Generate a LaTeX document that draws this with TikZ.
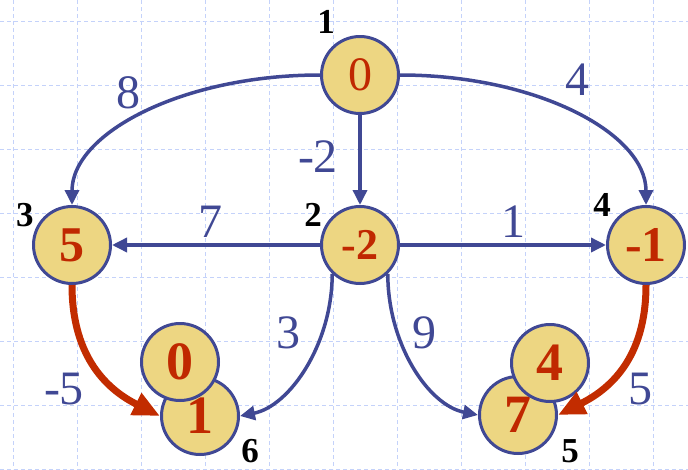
\documentclass[tikz,border=0pt]{standalone}
\usepackage{fontspec}
\setmainfont{Liberation Serif}
\usepackage{tikz}
\usetikzlibrary{arrows.meta}
\definecolor{edgeblue}{RGB}{64,72,148}
\definecolor{nodefill}{RGB}{237,214,130}
\definecolor{valred}{RGB}{192,40,0}
\definecolor{treered}{RGB}{194,44,0}
\definecolor{gridblue}{RGB}{196,210,250}
\tikzset{
    vertex/.style={circle, draw=edgeblue, fill=nodefill, line width=3pt, minimum size=77pt,
        inner sep=0pt, text=valred, font=\bfseries\fontsize{50}{50}\selectfont},
    idlabel/.style={font=\bfseries\fontsize{35}{35}\selectfont},
    weight/.style={text=edgeblue, font=\fontsize{48}{48}\selectfont},
    blueedge/.style={draw=edgeblue, line width=3.5pt, -{Triangle[length=15pt,width=14pt]}},
    rededge/.style={draw=treered, line width=7pt, -{Triangle[length=27pt,width=23pt]}},
    gridline/.style={draw=gridblue, line width=1pt, dash pattern=on 4pt off 3pt}
}
\begin{document}
\begin{tikzpicture}[x=1pt, y=1pt]
    \useasboundingbox (0,0) rectangle (688,-469);

    % ---------------- grid ----------------
    \foreach \gx in {13,77,...,653}
        \draw[gridline] (\gx,0) -- (\gx,-469);
    \foreach \gy in {21,85,...,469}
        \draw[gridline] (0,-\gy) -- (688,-\gy);

    % ---------------- vertices ----------------
    \node[vertex, font=\fontsize{48}{48}\selectfont] (v1) at (360,-75) {0};
    \node[vertex, font=\bfseries\fontsize{44}{44}\selectfont] (v2) at (360,-245) {-2};
    \node[vertex] (v3) at (72,-245) {5};
    \node[vertex] (v4) at (646,-245) {-1};
    \node[vertex, font=\bfseries\fontsize{54}{54}\selectfont] (v6) at (200,-416) {1};
    \node[vertex, font=\bfseries\fontsize{54}{54}\selectfont] (v6old) at (180,-362) {0};
    \node[vertex, font=\bfseries\fontsize{54}{54}\selectfont] (v5) at (518,-415) {7};
    \node[vertex, font=\bfseries\fontsize{54}{54}\selectfont] (v5old) at (550,-363) {4};

    \node[idlabel] (id1) at (326,-22) {1};
    \node[idlabel] (id2) at (313,-215) {2};
    \node[idlabel] (id3) at (25,-215) {3};
    \node[idlabel] (id4) at (602,-205) {4};
    \node[idlabel] (id6) at (250,-451) {6};
    \node[idlabel] (id5) at (570,-451) {5};

    % ---------------- edges ----------------
    \draw[blueedge] (v1.west) .. controls +(-137,0) and +(0,72) .. (v3.north);
    \draw[blueedge] (v1.east) .. controls +(136,0) and +(0,72) .. (v4.north);
    \draw[blueedge] (v1) -- (v2);
    \draw[blueedge] (v2) -- (v3);
    \draw[blueedge] (v2) -- (v4);
    \draw[blueedge] (v2.226) .. controls +(0,-70) and +(50,10) .. (v6.east);
    \draw[blueedge] (v2.314) .. controls +(0,-70) and +(-50,10) .. (v5.west);
    \draw[rededge] (v3.south) .. controls +(0,-75) and +(-50,25) .. (v6.west);
    \draw[rededge] (v4.south) .. controls +(0,-75) and +(50,25) .. (v5.east);

    \node[weight] (w13) at (128,-93) {8};
    \node[weight] (w12) at (318,-157) {-2};
    \node[weight] (w14) at (577,-80) {4};
    \node[weight] (w23) at (210,-222) {7};
    \node[weight] (w24) at (513,-222) {1};
    \node[weight] (w26) at (288,-333) {3};
    \node[weight] (w25) at (424,-333) {9};
    \node[weight] (w36) at (64,-389) {-5};
    \node[weight] (w45) at (640,-389) {5};
\end{tikzpicture}
\end{document}
